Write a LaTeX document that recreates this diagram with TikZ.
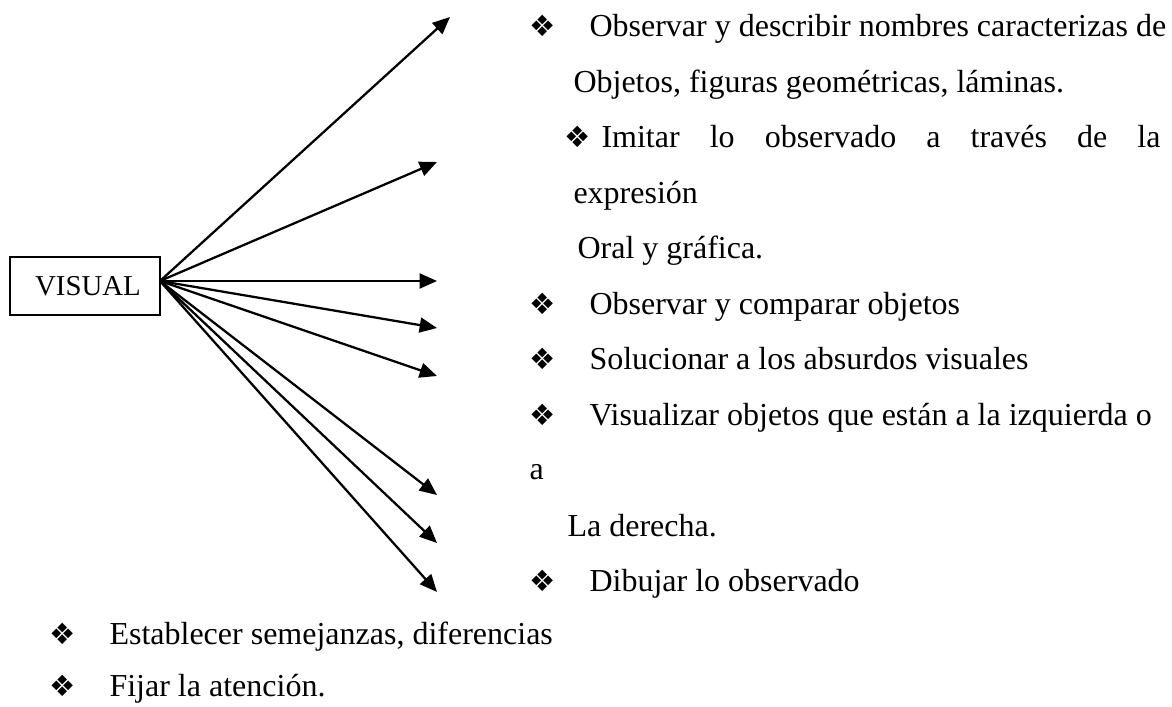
\documentclass[tikz,border=0pt]{standalone}
\usepackage{fontspec}
\setmainfont{Liberation Serif}
\newfontfamily\dejavu{DejaVu Sans}
\usetikzlibrary{arrows.meta}
\begin{document}
\begin{tikzpicture}[x=0.375pt,y=-0.375pt,
  txt/.style={anchor=base west,inner sep=0pt,font=\fontsize{12}{14}\selectfont},
  bul/.style={anchor=base,inner sep=0pt,font=\dejavu\fontsize{11}{13}\selectfont},
  arr/.style={line width=0.85pt,-{Triangle[length=6.5pt,width=5.6pt]}},
  vbox/.style={draw,line width=0.75pt,minimum width=56.25pt,minimum height=21.75pt,inner sep=0pt,font=\fontsize{10.8}{13}\selectfont}]
\useasboundingbox (0,0) rectangle (1172,707);
\node[vbox] (box) at (85,286) {\hspace{2.2pt}VISUAL};
\coordinate (o) at (160,281);
\coordinate (e1) at (450,17);
\coordinate (e2) at (437,162);
\coordinate (e3) at (437,281);
\coordinate (e4) at (437,328);
\coordinate (e5) at (437,376);
\coordinate (e6) at (437,495);
\coordinate (e7) at (437,543);
\coordinate (e8) at (437,592);
\foreach \i in {1,...,8} \draw[arr] (o) -- (e\i);
% right column
\node[bul] (b1) at (543,37) {❖};
\node[txt] (t1) at (589,37) {Observar y describir nombres caracterizas de};
\node[txt] (t2) at (573,92.5) {Objetos, figuras geométricas, láminas.};
\node[bul] (b3) at (578,148) {❖};
\node[txt] (t3) at (601,148) {\makebox[209.6pt][s]{Imitar lo observado a través de la}};
\node[txt] (t4) at (573,203.5) {expresión};
\node[txt] (t5) at (577,259) {Oral y gráfica.};
\node[bul] (b6) at (543,314.5) {❖};
\node[txt] (t6) at (589,314.5) {Observar y comparar objetos};
\node[bul] (b7) at (543,370) {❖};
\node[txt] (t7) at (589,370) {Solucionar a los absurdos visuales};
\node[bul] (b8) at (543,425.5) {❖};
\node[txt] (t8) at (589,425.5) {Visualizar objetos que están a la izquierda o};
\node[txt] (t9) at (529,480) {a};
\node[txt] (t10) at (567,536.5) {La derecha.};
\node[bul] (b11) at (543,592) {❖};
\node[txt] (t11) at (589,592) {Dibujar lo observado};
% bottom
\node[bul] (b12) at (63,645) {❖};
\node[txt] (t12) at (109,645) {Establecer semejanzas, diferencias};
\node[bul] (b13) at (63,697) {❖};
\node[txt] (t13) at (109,697) {Fijar la atención.};
\end{tikzpicture}
\end{document}
